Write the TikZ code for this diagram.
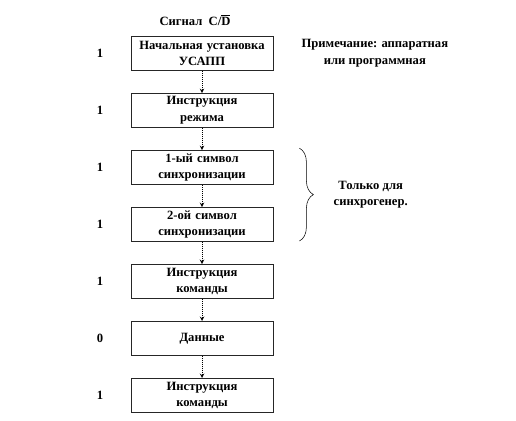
\documentclass[tikz,border=0pt]{standalone}
\usepackage{fontspec}
\setmainfont{Liberation Serif}
\usepackage{tikz}
\usetikzlibrary{arrows,positioning,calc,decorations.pathreplacing}

\begin{document}
\begin{tikzpicture}[
            node distance=0.59cm,
            font=\fontsize{9.5}{12.5}\selectfont\bfseries,
            stage/.style={
                    rectangle,
                    draw=black!85,
                    line width=0.5pt,
                    fill=white,
                    minimum width=3.757cm,
                    minimum height=0.9cm,
                    text width=3.5cm,
                    inner sep=2pt,
                    align=center
                },
            bit/.style={inner sep=0pt},
            note/.style={align=center, inner sep=0pt},
            arrow/.style={->, >=stealth, densely dotted, line width=0.5pt}
        ]
        \useasboundingbox (0,0) rectangle (13.653,-11.113);

        \node (title) at (5.16,-0.53) {Сигнал\ \ C/$\overline{\mbox{D}}$};

        \node[stage] (init) at (5.345,-1.415) {Начальная установка\\УСАПП};
        \node[stage, below=of init] (mode) {Инструкция\\режима};
        \node[stage, below=of mode] (sync1) {1-ый символ\\синхронизации};
        \node[stage, below=of sync1] (sync2) {2-ой символ\\синхронизации};
        \node[stage, below=of sync2] (cmd1) {Инструкция\\команды};
        \node[stage, below=of cmd1] (data) {Данные};
        \node[stage, below=of data] (cmd2) {Инструкция\\команды};

        % C/D bits
        \node[bit, left=0.72cm of init] (b1) {1};
        \node[bit, left=0.72cm of mode] (b2) {1};
        \node[bit, left=0.72cm of sync1] (b3) {1};
        \node[bit, left=0.72cm of sync2] (b4) {1};
        \node[bit, left=0.72cm of cmd1] (b5) {1};
        \node[bit, left=0.72cm of data] (b6) {0};
        \node[bit, left=0.72cm of cmd2] (b7) {1};

        \node[note, right=0.74cm of init] (hint) {Примечание: аппаратная\\или программная};

        \draw[arrow] (init) -- (mode);
        \draw[arrow] (mode) -- (sync1);
        \draw[arrow] (sync1) -- (sync2);
        \draw[arrow] (sync2) -- (cmd1);
        \draw[arrow] (cmd1) -- (data);
        \draw[arrow] (data) -- (cmd2);

        \draw[decorate, decoration={brace, amplitude=0.37cm}, line width=0.4pt]
            ($(sync1.north east)+(0.69,0.05)$) -- ($(sync2.south east)+(0.69,0.02)$)
            node[note, midway, right=0.9cm] (synconly) {Только для\\синхрогенер.};
    \end{tikzpicture}
\end{document}
